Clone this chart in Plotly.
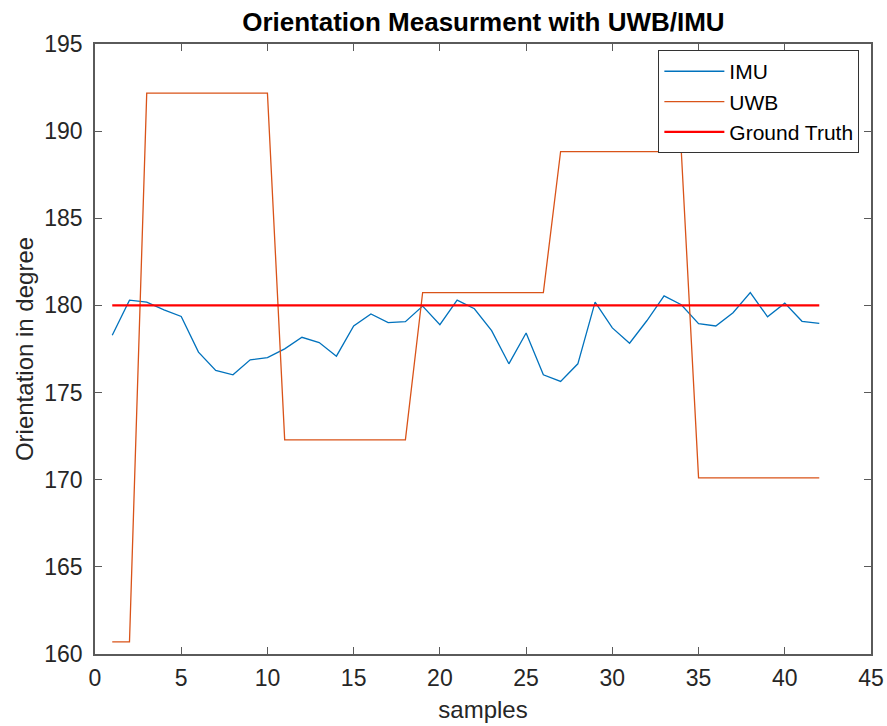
import plotly.graph_objects as go

samples = list(range(1, 43))
imu = [178.29, 180.30, 180.19, 179.75, 179.37, 177.32, 176.27, 176.02, 176.88, 177.01,
       177.51, 178.17, 177.87, 177.09, 178.82, 179.51, 179.01, 179.07, 179.96, 178.90,
       180.30, 179.81, 178.55, 176.65, 178.42, 176.02, 175.64, 176.65, 180.19, 178.71,
       177.83, 179.12, 180.55, 180.04, 178.95, 178.82, 179.58, 180.74, 179.35, 180.13,
       179.09, 178.97]
uwb = [160.69, 160.69] + [192.18] * 8 + [172.29] * 8 + [180.74] * 8 + [188.83] * 8 + [170.11] * 8
ground_truth = [180.0] * 42

x_ticks = [0, 5, 10, 15, 20, 25, 30, 35, 40, 45]
y_ticks = [160, 165, 170, 175, 180, 185, 190, 195]

FONT = "Liberation Sans, Arial, sans-serif"
AX = "#5a5a5a"

fig = go.Figure()
fig.add_trace(go.Scatter(x=samples, y=imu, mode="lines", name="IMU",
                         line=dict(color="#0072BD", width=1.3)))
fig.add_trace(go.Scatter(x=samples, y=uwb, mode="lines", name="UWB",
                         line=dict(color="#D95319", width=1.3)))
fig.add_trace(go.Scatter(x=samples, y=ground_truth, mode="lines", name="Ground Truth",
                         line=dict(color="#FF0000", width=2.2)))

axis_common = dict(showgrid=False, zeroline=False, showline=True, linecolor=AX, linewidth=1.5,
                   mirror="allticks", ticks="inside", ticklen=7, tickcolor=AX, tickwidth=1,
                   automargin=False,
                   tickfont=dict(family=FONT, size=23, color="#262626"))

fig.update_layout(
    width=887, height=726,
    paper_bgcolor="white", plot_bgcolor="white",
    margin=dict(l=95, r=16, t=44, b=72),
    title=dict(text="<b>Orientation Measurment with UWB/IMU</b>", x=0.545, xanchor="center",
               y=0.97, yanchor="middle",
               font=dict(family=FONT, size=26, color="black")),
    xaxis=dict(range=[0, 45], tickvals=x_ticks, ticktext=[str(v) for v in x_ticks],
               ticklabelstandoff=3,
               title=dict(text="samples", font=dict(family=FONT, size=24, color="#262626"), standoff=11),
               **axis_common),
    yaxis=dict(range=[160, 195], tickvals=y_ticks, ticktext=[str(v) for v in y_ticks],
               ticklabelstandoff=6,
               title=dict(text="Orientation in degree", font=dict(family=FONT, size=24, color="#262626"), standoff=4),
               **axis_common),
    legend=dict(x=0.985, y=0.99, xanchor="right", yanchor="top",
                bgcolor="white", bordercolor="#333", borderwidth=1,
                font=dict(family=FONT, size=21, color="black"),
                tracegroupgap=0, itemwidth=60),
    showlegend=True,
)

fig.write_html("out.html")
